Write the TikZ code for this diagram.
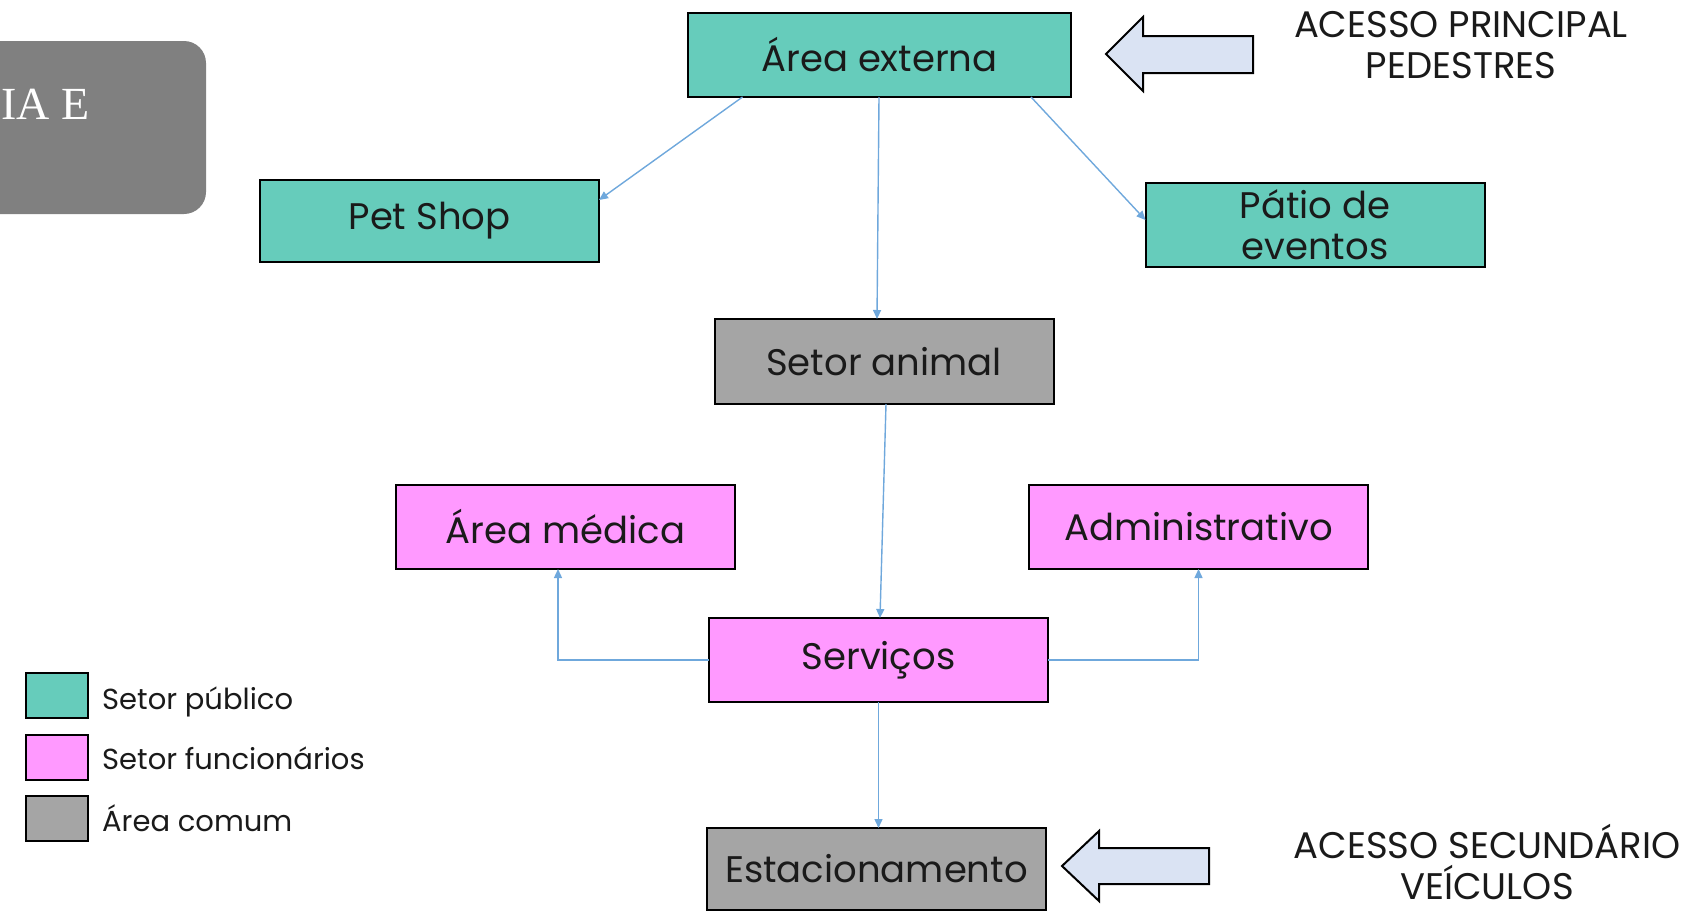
\documentclass[tikz,border=0pt]{standalone}
\usepackage{fontspec}
\setmainfont{Poppins}
\newfontfamily\serifx{Liberation Serif}
\usetikzlibrary{arrows.meta,calc}
\definecolor{teal1}{HTML}{66CCBB}
\definecolor{pink1}{HTML}{FF99FF}
\definecolor{gray1}{HTML}{A5A5A5}
\definecolor{gray2}{HTML}{808080}
\definecolor{connc}{HTML}{6FA8DC}
\definecolor{arrfill}{HTML}{DAE3F3}
\definecolor{txt}{HTML}{1A1A1A}
\begin{document}
\begin{tikzpicture}[x=1pt,y=-1pt,
 box/.style={draw=black,line width=2pt,minimum width=339pt,minimum height=84pt,inner sep=0pt,outer sep=0pt,font=\fontsize{37}{41}\selectfont,text=txt,align=center},
 pub/.style={box,fill=teal1}, fun/.style={box,fill=pink1}, com/.style={box,fill=gray1},
 conn/.style={draw=connc,line width=1.4pt,-{Triangle[length=9pt,width=8pt]}},
 legsq/.style={draw=black,line width=2pt,minimum width=62pt,minimum height=45pt,inner sep=0pt,outer sep=0pt},
 legtxt/.style={anchor=base west,font=\fontsize{29}{32}\selectfont,text=txt,inner sep=0pt},
 access/.style={draw=black,line width=2pt,fill=arrfill,line join=miter},
 acctxt/.style={align=center,font=\fontsize{37}{41}\selectfont,text=txt,inner sep=0pt}]
\useasboundingbox (0,0) rectangle (1698,911);

% title box (clipped)
\fill[gray2, rounded corners=22pt] (-60,41) rectangle (206,214);
\node[anchor=west,text=white,font=\serifx\fontsize{46}{52}\selectfont,inner sep=0pt] (title) at (1,104) {IA E};

% nodes
\node[pub,minimum width=383pt] (ext) at (879.5,55) {Área externa};
\node[pub,minimum height=82pt] (pet) at (429.5,221) {Pet Shop};
\node[pub] (patio) at (1315,225) {Pátio de\\eventos};
\node[com,minimum height=85pt] (animal) at (884,361.5) {Setor animal};
\node[fun] (med) at (565.5,527) {Área médica};
\node[fun] (adm) at (1198.5,527) {Administrativo};
\node[fun] (serv) at (878.5,660) {Serviços};
\node[com,minimum height=82pt] (est) at (876.5,869) {Estacionamento};

% connectors
\draw[conn] ([xshift=-137pt]ext.south) -- ([yshift=21pt]pet.east);
\draw[conn] ([xshift=-0.5pt]ext.south) -- ([xshift=-7pt]animal.north);
\draw[conn] ([xshift=151.5pt]ext.south) -- ([yshift=5pt]patio.west);
\draw[conn] ([xshift=2pt]animal.south) -- ([xshift=1.5pt]serv.north);
\draw[conn] (serv.west) -| ([xshift=-7.5pt]med.south);
\draw[conn] (serv.east) -| (adm.south);
\draw[conn] (serv.south) -- (serv.south |- est.north);

% access arrows
\draw[access] (1106,54) -- (1143,17) -- (1143,36) -- (1253,36) -- (1253,73) -- (1143,73) -- (1143,91) -- cycle;
\node[acctxt] (acc1) at (1461,45) {ACESSO PRINCIPAL\\PEDESTRES};
\draw[access] (1062,866) -- (1099,831) -- (1099,848) -- (1209,848) -- (1209,884) -- (1099,884) -- (1099,901) -- cycle;
\node[acctxt] (acc2) at (1487,862) {ACESSO SECUNDÁRIO\\VEÍCULOS};

% legend
\node[legsq,fill=teal1] (l1) at (56.5,695) {};
\node[legsq,fill=pink1] (l2) at (56.5,757) {};
\node[legsq,fill=gray1] (l3) at (56.5,818) {};
\node[legtxt] (t1) at (102,709) {Setor público};
\node[legtxt] (t2) at (102,769) {Setor funcionários};
\node[legtxt] (t3) at (102,831) {Área comum};
\end{tikzpicture}
\end{document}
